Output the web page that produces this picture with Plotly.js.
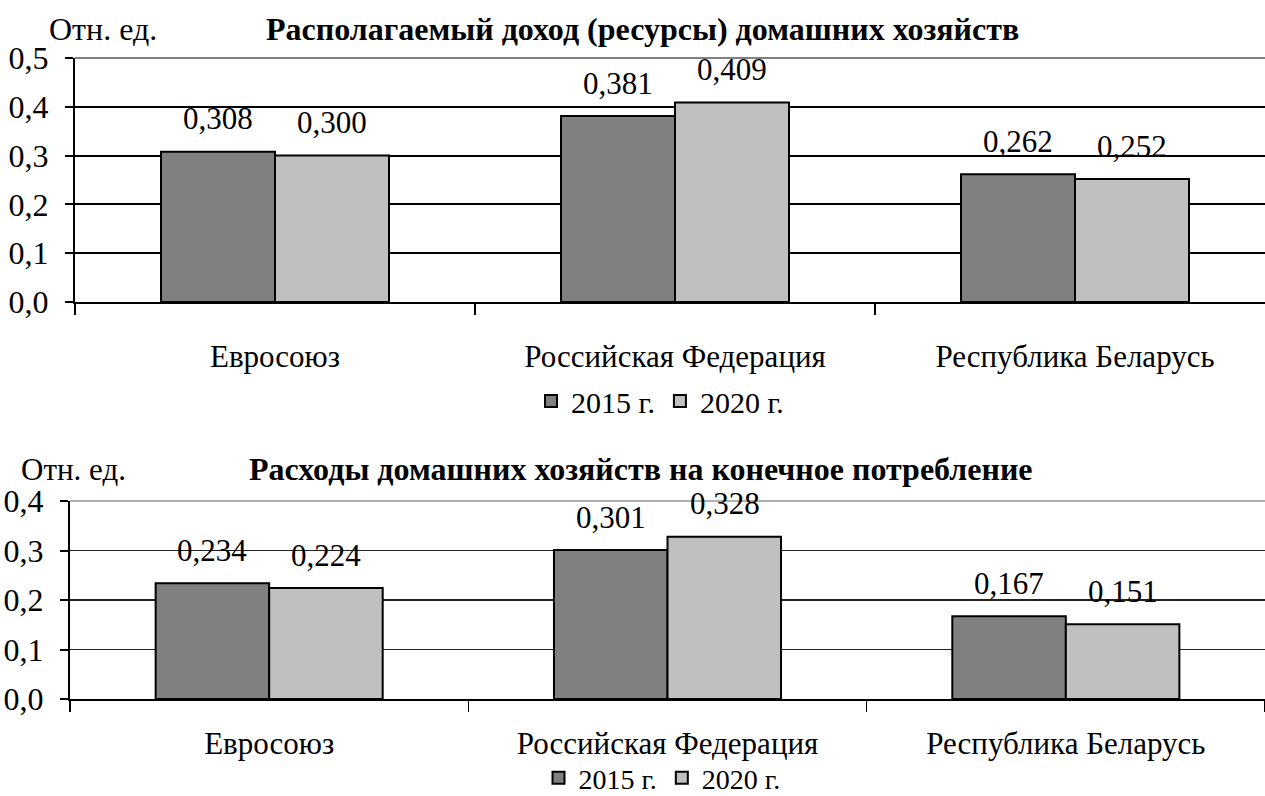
<!DOCTYPE html>
<html>
<head>
<meta charset="utf-8">
<script src="https://cdn.plot.ly/plotly-3.0.1.min.js"></script>
<style>html,body{margin:0;padding:0;background:#fff;}#chart{width:1265px;height:796px;}</style>
</head>
<body>
<div id="chart"></div>
<script>
const categories = ['Евросоюз', 'Российская Федерация', 'Республика Беларусь'];
const seriesNames = ['2015 г.', '2020 г.'];
const income2015 = [0.308, 0.381, 0.262];
const income2020 = [0.300, 0.409, 0.252];
const spend2015 = [0.234, 0.301, 0.167];
const spend2020 = [0.224, 0.328, 0.151];
const title1 = 'Располагаемый доход (ресурсы) домашних хозяйств';
const title2 = 'Расходы домашних хозяйств на конечное потребление';
const unitLabel = 'Отн. ед.';

const FONT = 'Liberation Serif';
const C1 = '#808080', C2 = '#c0c0c0';

function bar(name, y, color, xa, ya, legend) {
  return {type: 'bar', name: name, x: categories, y: y, xaxis: xa, yaxis: ya,
    legend: legend, showlegend: true,
    marker: {color: color, line: {color: '#000', width: 2}}, hoverinfo: 'none'};
}
const traces = [
  bar(seriesNames[0], income2015, C1, 'x', 'y', 'legend'),
  bar(seriesNames[1], income2020, C2, 'x', 'y', 'legend'),
  bar(seriesNames[0], spend2015, C1, 'x2', 'y2', 'legend2'),
  bar(seriesNames[1], spend2020, C2, 'x2', 'y2', 'legend2')
];

const fmt = v => v.toFixed(3).replace('.', ',');
const annotations = [];
function labels(vals, xa, ya, shift) {
  vals.forEach((v, i) => annotations.push({x: categories[i], y: v, xref: xa, yref: ya,
    text: fmt(v), showarrow: false, xshift: shift, yshift: 33, yanchor: 'middle',
    font: {family: FONT, size: 31, color: '#000'}}));
}
labels(income2015, 'x', 'y', -57);
labels(income2020, 'x', 'y', 57);
labels(spend2015, 'x2', 'y2', -57);
labels(spend2020, 'x2', 'y2', 57);

annotations.push(
  {xref: 'paper', yref: 'paper', x: 47/1265, y: 1 - 29/796, xanchor: 'left', yanchor: 'middle', text: unitLabel, showarrow: false, font: {family: FONT, size: 32, color: '#000'}},
  {xref: 'paper', yref: 'paper', x: 643/1265, y: 1 - 29/796, xanchor: 'center', yanchor: 'middle', text: '<b>' + title1 + '</b>', showarrow: false, font: {family: FONT, size: 32, color: '#000'}},
  {xref: 'paper', yref: 'paper', x: 19/1265, y: 1 - 469/796, xanchor: 'left', yanchor: 'middle', text: unitLabel, showarrow: false, font: {family: FONT, size: 31, color: '#000'}},
  {xref: 'paper', yref: 'paper', x: 641/1265, y: 1 - 469/796, xanchor: 'center', yanchor: 'middle', text: '<b>' + title2 + '</b>', showarrow: false, font: {family: FONT, size: 32, color: '#000'}}
);

function xax(domain, range, anchor, standoff) {
  return {domain: domain, range: range, anchor: anchor, type: 'category',
    showline: true, linecolor: '#000', linewidth: 2, ticks: 'outside', tickson: 'boundaries',
    ticklen: 11, tickcolor: '#000', tickwidth: 1.5, showgrid: false, zeroline: false,
    ticklabelstandoff: standoff, tickfont: {family: FONT, size: 31, color: '#000'}, fixedrange: true};
}
function yax(domain, range, anchor, gw, gc) {
  return {domain: domain, range: range, anchor: anchor, dtick: 0.1, tickformat: '.1f',
    showline: true, linecolor: '#000', linewidth: 2, ticks: 'outside', ticklen: 8, tickcolor: '#000', tickwidth: 2,
    showgrid: true, gridcolor: gc, gridwidth: gw, zeroline: false,
    ticklabelstandoff: 10, tickfont: {family: FONT, size: 32, color: '#000'}, fixedrange: true};
}

const layout = {
  width: 1265, height: 796, margin: {l: 0, r: 0, t: 0, b: 0, autoexpand: false},
  paper_bgcolor: '#fff', plot_bgcolor: '#fff', separators: ', ',
  barmode: 'group', bargap: 0.43, bargroupgap: 0,
  font: {family: FONT, color: '#000'},
  xaxis: xax([75/1265, 1], [-0.5, 2.475], 'y', 26),
  yaxis: yax([1 - 302/796, 1 - 58/796], [0, 0.5], 'x', 2, '#000'),
  xaxis2: xax([70/1265, 1], [-0.5, 2.5], 'y2', 16),
  yaxis2: yax([1 - 699/796, 1 - 501/796], [0, 0.4], 'x2', 1.3, '#222'),
  legend: {orientation: 'h', x: 660/1265, xanchor: 'center', y: 1 - 401/796, yanchor: 'middle',
    bgcolor: 'rgba(0,0,0,0)', font: {family: FONT, size: 30, color: '#000'}, itemwidth: 30, tracegroupgap: 0},
  legend2: {orientation: 'h', x: 662/1265, xanchor: 'center', y: 1 - 778/796, yanchor: 'middle',
    bgcolor: 'rgba(0,0,0,0)', font: {family: FONT, size: 28, color: '#000'}, itemwidth: 30, tracegroupgap: 0},
  shapes: [
    {type: 'line', xref: 'x domain', yref: 'y domain', x0: 0, x1: 1, y0: 1, y1: 1, line: {color: '#808080', width: 2}},
    {type: 'line', xref: 'x2 domain', yref: 'y2 domain', x0: 0, x1: 1, y0: 1, y1: 1, line: {color: '#b0b0b0', width: 2}}
  ],
  annotations: annotations
};

Plotly.newPlot('chart', traces, layout, {displayModeBar: false, staticPlot: true});
</script>
</body>
</html>
